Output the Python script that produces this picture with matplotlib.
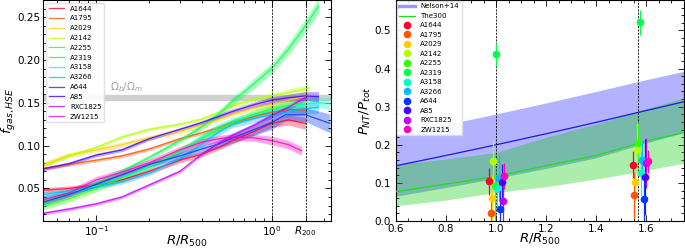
import numpy as np
import matplotlib
matplotlib.use('Agg')
import matplotlib.pyplot as plt
from matplotlib.lines import Line2D
from matplotlib.ticker import MultipleLocator, LogLocator, NullFormatter, FixedLocator, FixedFormatter

clusters = ['A1644', 'A1795', 'A2029', 'A2142', 'A2255', 'A2319', 'A3158',
            'A3266', 'A644', 'A85', 'RXC1825', 'ZW1215']

# ---------------- left panel: f_gas,HSE profiles ----------------
r_A1644 = [0.05, 0.07, 0.1, 0.14, 0.2, 0.3, 0.4, 0.5, 0.6, 0.8, 1.0, 1.25, 1.56]
f_A1644 = [0.048, 0.050, 0.054, 0.060, 0.070, 0.083, 0.090, 0.098, 0.106, 0.117, 0.126, 0.130, 0.126]
e_A1644 = [0.003, 0.003, 0.003, 0.003, 0.003, 0.003, 0.003, 0.003, 0.004, 0.004, 0.005, 0.006, 0.007]

r_A1795 = [0.05, 0.07, 0.1, 0.14, 0.2, 0.3, 0.4, 0.5, 0.6, 0.8, 1.0, 1.25, 1.56]
f_A1795 = [0.073, 0.078, 0.083, 0.088, 0.096, 0.108, 0.115, 0.121, 0.127, 0.134, 0.139, 0.142, 0.141]
e_A1795 = [0.002, 0.002, 0.002, 0.002, 0.002, 0.002, 0.002, 0.003, 0.003, 0.003, 0.003, 0.004, 0.004]

r_A2029 = [0.05, 0.07, 0.1, 0.14, 0.2, 0.3, 0.4, 0.5, 0.6, 0.8, 1.0, 1.25, 1.6]
f_A2029 = [0.078, 0.089, 0.095, 0.101, 0.109, 0.117, 0.124, 0.131, 0.137, 0.144, 0.148, 0.153, 0.158]
e_A2029 = [0.003, 0.003, 0.003, 0.003, 0.003, 0.003, 0.003, 0.003, 0.003, 0.003, 0.004, 0.004, 0.005]

r_A2142 = [0.05, 0.07, 0.1, 0.14, 0.2, 0.3, 0.4, 0.5, 0.6, 0.8, 1.0, 1.25, 1.63]
f_A2142 = [0.076, 0.088, 0.098, 0.110, 0.119, 0.125, 0.131, 0.139, 0.147, 0.154, 0.158, 0.162, 0.167]
e_A2142 = [0.002, 0.002, 0.002, 0.002, 0.002, 0.002, 0.002, 0.002, 0.003, 0.003, 0.003, 0.004, 0.005]

r_A2255 = [0.05, 0.07, 0.1, 0.14, 0.2, 0.3, 0.4, 0.5, 0.6, 0.8, 1.0, 1.25, 1.56]
f_A2255 = [0.029, 0.038, 0.050, 0.062, 0.076, 0.094, 0.108, 0.119, 0.127, 0.137, 0.143, 0.147, 0.149]
e_A2255 = [0.004, 0.004, 0.004, 0.004, 0.004, 0.004, 0.004, 0.004, 0.004, 0.005, 0.005, 0.006, 0.006]

r_A2319 = [0.05, 0.07, 0.1, 0.14, 0.2, 0.3, 0.4, 0.5, 0.6, 0.7, 0.8, 1.0, 1.25, 1.56, 1.85]
f_A2319 = [0.033, 0.043, 0.056, 0.070, 0.086, 0.106, 0.122, 0.137, 0.152, 0.163, 0.173, 0.190, 0.213, 0.240, 0.263]
e_A2319 = [0.003, 0.003, 0.003, 0.003, 0.003, 0.003, 0.004, 0.004, 0.005, 0.005, 0.006, 0.006, 0.007, 0.008, 0.009]

r_A3158 = [0.05, 0.07, 0.1, 0.14, 0.2, 0.3, 0.4, 0.5, 0.6, 0.8, 1.0, 1.25, 1.56, 1.85, 2.15]
f_A3158 = [0.040, 0.046, 0.053, 0.063, 0.075, 0.093, 0.110, 0.122, 0.129, 0.136, 0.141, 0.146, 0.149, 0.150, 0.149]
e_A3158 = [0.003, 0.003, 0.003, 0.003, 0.003, 0.003, 0.004, 0.004, 0.004, 0.004, 0.005, 0.005, 0.006, 0.006, 0.007]

r_A3266 = [0.05, 0.07, 0.1, 0.14, 0.2, 0.3, 0.4, 0.5, 0.6, 0.8, 1.0, 1.25, 1.56, 1.85]
f_A3266 = [0.043, 0.047, 0.052, 0.058, 0.068, 0.085, 0.102, 0.116, 0.125, 0.132, 0.136, 0.140, 0.143, 0.145]
e_A3266 = [0.003, 0.003, 0.003, 0.003, 0.003, 0.003, 0.004, 0.004, 0.004, 0.005, 0.005, 0.006, 0.006, 0.007]

r_A644 = [0.05, 0.07, 0.1, 0.14, 0.2, 0.3, 0.4, 0.5, 0.6, 0.8, 1.0, 1.2, 1.56, 2.15]
f_A644 = [0.034, 0.043, 0.055, 0.066, 0.078, 0.088, 0.096, 0.102, 0.109, 0.119, 0.127, 0.136, 0.136, 0.126]
e_A644 = [0.003, 0.003, 0.003, 0.003, 0.003, 0.004, 0.004, 0.005, 0.006, 0.007, 0.008, 0.007, 0.008, 0.011]

r_A85 = [0.05, 0.07, 0.1, 0.14, 0.2, 0.3, 0.4, 0.5, 0.6, 0.8, 1.0, 1.25, 1.56, 1.85]
f_A85 = [0.073, 0.079, 0.089, 0.095, 0.108, 0.119, 0.127, 0.134, 0.140, 0.148, 0.153, 0.156, 0.158, 0.157]
e_A85 = [0.002, 0.002, 0.002, 0.002, 0.002, 0.002, 0.002, 0.003, 0.003, 0.003, 0.004, 0.004, 0.005, 0.006]

r_RXC1825 = [0.05, 0.07, 0.1, 0.14, 0.2, 0.3, 0.4, 0.5, 0.6, 0.8, 1.0, 1.25, 1.56]
f_RXC1825 = [0.021, 0.026, 0.032, 0.040, 0.054, 0.070, 0.090, 0.103, 0.112, 0.124, 0.135, 0.145, 0.156]
e_RXC1825 = [0.002, 0.002, 0.002, 0.002, 0.002, 0.002, 0.002, 0.002, 0.002, 0.003, 0.003, 0.003, 0.003]

r_ZW1215 = [0.05, 0.07, 0.1, 0.14, 0.2, 0.3, 0.4, 0.5, 0.6, 0.8, 1.0, 1.25, 1.48]
f_ZW1215 = [0.037, 0.045, 0.060, 0.069, 0.080, 0.095, 0.104, 0.108, 0.110, 0.109, 0.106, 0.101, 0.094]
e_ZW1215 = [0.004, 0.004, 0.004, 0.004, 0.004, 0.004, 0.004, 0.004, 0.004, 0.004, 0.005, 0.005, 0.005]

omega_b_over_m = (0.153, 0.159)
r200_over_r500 = 1.565

# ---------------- right panel: P_NT / P_tot ----------------
r_model = [0.6, 0.8, 1.0, 1.2, 1.4, 1.6, 1.75]
nelson_mid = [0.145, 0.172, 0.200, 0.229, 0.259, 0.290, 0.313]
nelson_lo = [0.065, 0.088, 0.112, 0.138, 0.166, 0.205, 0.232]
nelson_hi = [0.225, 0.253, 0.281, 0.310, 0.340, 0.371, 0.393]
the300_mid = [0.077, 0.097, 0.117, 0.145, 0.172, 0.210, 0.232]
the300_lo = [0.040, 0.055, 0.075, 0.090, 0.110, 0.133, 0.152]
the300_hi = [0.148, 0.163, 0.180, 0.220, 0.255, 0.295, 0.323]

pnt_r500 = [0.104, 0.022, 0.061, 0.157, 0.091, 0.438, 0.086, 0.113, 0.032, 0.102, 0.052, 0.118]
err_r500 = [0.035, 0.050, 0.060, 0.055, 0.090, 0.030, 0.050, 0.060, 0.060, 0.047, 0.060, 0.035]
pnt_r200 = [0.148, 0.068, 0.103, 0.187, 0.206, 0.522, 0.125, 0.159, 0.057, 0.115, 0.152, 0.157]
err_r200 = [0.035, 0.060, 0.050, 0.070, 0.050, 0.033, 0.060, 0.050, 0.060, 0.100, 0.065, 0.030]

left_r = [r_A1644, r_A1795, r_A2029, r_A2142, r_A2255, r_A2319, r_A3158,
          r_A3266, r_A644, r_A85, r_RXC1825, r_ZW1215]
left_f = [f_A1644, f_A1795, f_A2029, f_A2142, f_A2255, f_A2319, f_A3158,
          f_A3266, f_A644, f_A85, f_RXC1825, f_ZW1215]
left_e = [e_A1644, e_A1795, e_A2029, e_A2142, e_A2255, e_A2319, e_A3158,
          e_A3266, e_A644, e_A85, e_RXC1825, e_ZW1215]

colors = plt.cm.gist_rainbow(np.linspace(0, 1, len(clusters)))

fig = plt.figure(figsize=(6.85, 2.5), dpi=100)
axL = fig.add_axes([0.0635, 0.116, 0.4197, 0.884])
axR = fig.add_axes([0.578, 0.116, 0.4204, 0.884])

TL = 7.5
# ---- left ----
axL.axhspan(omega_b_over_m[0], omega_b_over_m[1], color='#d0d0d0', zorder=0)
axL.text(0.12, 0.1605, r'$\Omega_b/\Omega_m$', color='#a0a0a0', fontsize=7.5, va='bottom')
for name, c, r, f, e in zip(clusters, colors, left_r, left_f, left_e):
    r = np.asarray(r); f = np.asarray(f); e = np.asarray(e)
    axL.fill_between(r, f - e, f + e, color=c, alpha=0.35, lw=0, zorder=1)
    axL.plot(r, f, color=c, lw=0.9, alpha=0.8, label=name, zorder=2)
axL.axvline(1.0, color='k', ls='--', lw=0.6, dashes=(2.5, 1.5))
axL.axvline(r200_over_r500, color='k', ls='--', lw=0.6, dashes=(2.5, 1.5))
axL.set_xscale('log')
axL.set_xlim(0.05, 2.18)
axL.set_ylim(0.012, 0.27)
axL.xaxis.set_major_locator(FixedLocator([0.1, 1.0, r200_over_r500]))
axL.xaxis.set_major_formatter(FixedFormatter([r'$10^{-1}$', r'$10^{0}$', r'$R_{200}$']))
axL.xaxis.set_minor_locator(LogLocator(base=10, subs=np.arange(2, 10), numticks=20))
axL.xaxis.set_minor_formatter(NullFormatter())
axL.yaxis.set_major_locator(MultipleLocator(0.05))
axL.yaxis.set_minor_locator(MultipleLocator(0.01))
axL.yaxis.set_major_formatter(plt.FormatStrFormatter('%.2f'))
axL.set_xlabel(r'$R/R_{500}$', fontsize=9.5, labelpad=-2.5)
axL.set_ylabel(r'$f_{gas,HSE}$', fontsize=9.5, labelpad=0)
legL = axL.legend(loc='upper left', fontsize=5, frameon=True, borderaxespad=0.4,
                  handlelength=2.2, labelspacing=0.55, edgecolor='#dddddd', framealpha=0.9)

# ---- right ----
rm = np.asarray(r_model)
axR.fill_between(rm, nelson_lo, nelson_hi, color='blue', alpha=0.3, lw=0, zorder=1)
axR.plot(rm, nelson_mid, color='#1a1ae0', lw=0.9, zorder=3)
axR.fill_between(rm, the300_lo, the300_hi, color='#00cc00', alpha=0.33, lw=0, zorder=2)
axR.plot(rm, the300_mid, color='#22dd22', lw=0.9, zorder=3)
axR.axvline(1.0, color='k', ls='--', lw=0.6, dashes=(2.5, 1.5), zorder=4)
axR.axvline(r200_over_r500, color='k', ls='--', lw=0.6, dashes=(2.5, 1.5), zorder=4)
offsets = (np.arange(len(clusters)) - 5) * 0.0055
for i, (name, c) in enumerate(zip(clusters, colors)):
    axR.errorbar(1.0 + offsets[i], pnt_r500[i], yerr=err_r500[i], fmt='o', color=c,
                 ms=4.5, elinewidth=0.9, capsize=0, zorder=5)
    axR.errorbar(1.573 + offsets[i], pnt_r200[i], yerr=err_r200[i], fmt='o', color=c,
                 ms=4.5, elinewidth=0.9, capsize=0, zorder=5)
handles = [Line2D([], [], color='#9a9af5', lw=2.5, label='Nelson+14'),
           Line2D([], [], color='#22dd22', lw=0.9, label='The300')]
for name, c in zip(clusters, colors):
    handles.append(Line2D([], [], marker='o', ls='', color=c, ms=4.5, label=name))
axR.legend(handles=handles, loc='upper left', fontsize=5, frameon=True, borderaxespad=0.1,
           handlelength=2.2, labelspacing=0.5, edgecolor='#dddddd', framealpha=0.9)
axR.set_xlim(0.6, 1.75)
axR.set_ylim(0.0, 0.58)
axR.xaxis.set_major_locator(MultipleLocator(0.2))
axR.xaxis.set_minor_locator(MultipleLocator(0.05))
axR.yaxis.set_major_locator(MultipleLocator(0.1))
axR.yaxis.set_minor_locator(MultipleLocator(0.02))
axR.xaxis.set_major_formatter(plt.FormatStrFormatter('%.1f'))
axR.yaxis.set_major_formatter(plt.FormatStrFormatter('%.1f'))
axR.set_xlabel(r'$R/R_{500}$', fontsize=9.5, labelpad=-1)
axR.set_ylabel(r'$P_{NT}/P_{tot}$', fontsize=9.5, labelpad=1)

for ax in (axL, axR):
    ax.tick_params(which='both', direction='in', top=True, right=True, labelsize=TL, width=0.6)
    ax.tick_params(which='major', length=4, pad=2)
    ax.tick_params(which='minor', length=2)
    for s in ax.spines.values():
        s.set_linewidth(0.8)
axR.tick_params(axis='y', which='major', pad=3.5)

fig.savefig('out.png', dpi=100)
